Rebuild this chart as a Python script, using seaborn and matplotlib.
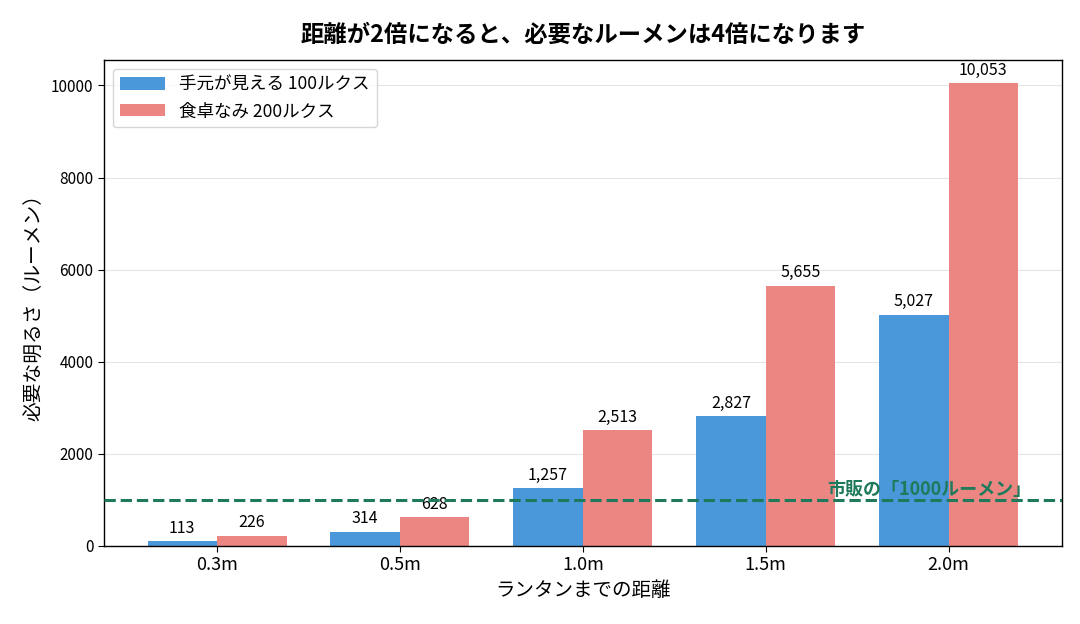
import pandas as pd
import matplotlib.pyplot as plt
import seaborn as sns

distances = ["0.3m", "0.5m", "1.0m", "1.5m", "2.0m"]
lumen_100 = [113, 314, 1257, 2827, 5027]
lumen_200 = [226, 628, 2513, 5655, 10053]
series_names = ["手元が見える 100ルクス", "食卓なみ 200ルクス"]
market_lumen = 1000

df = pd.DataFrame({
    "distance": distances * 2,
    "lumen": lumen_100 + lumen_200,
    "series": [series_names[0]] * len(distances) + [series_names[1]] * len(distances),
})

sns.set_style("white")
plt.rcParams["font.family"] = ["Noto Sans CJK JP", "DejaVu Sans"]
plt.rcParams["text.color"] = "black"
plt.rcParams["axes.labelcolor"] = "black"
plt.rcParams["xtick.color"] = "black"
plt.rcParams["ytick.color"] = "black"

fig, ax = plt.subplots(figsize=(10.8, 6.24), dpi=100)
sns.barplot(
    data=df, x="distance", y="lumen", hue="series",
    palette=["#4A98DA", "#EC8683"], width=0.76, saturation=1,
    linewidth=0, ax=ax, zorder=2,
)

for container in ax.containers:
    ax.bar_label(container, labels=[f"{v:,.0f}" for v in container.datavalues],
                 padding=3, fontsize=11.5)

ax.axhline(market_lumen, color="#1E7A5A", linestyle="--", linewidth=2.2, zorder=3)
ax.text(4.45, market_lumen + 30, "市販の「1000ルーメン」", color="#1E7A5A",
        fontsize=13, fontweight="bold", ha="right", va="bottom", zorder=4)

ax.set_xlim(-0.618, 4.618)
ax.set_ylim(0, max(lumen_200) * 1.05)
ax.set_yticks([0, 2000, 4000, 6000, 8000, 10000])
ax.yaxis.grid(True, color="#E5E5E5", linewidth=0.8, zorder=0)
ax.set_axisbelow(True)
for s in ax.spines.values():
    s.set_color("black")
    s.set_linewidth(1)
ax.tick_params(axis="x", labelsize=13, length=4, bottom=True)
ax.tick_params(axis="y", labelsize=11, length=4, left=True)

ax.set_title("距離が2倍になると、必要なルーメンは4倍になります", fontsize=16.8,
             fontweight="bold", pad=13)
ax.set_xlabel("ランタンまでの距離", fontsize=14)
ax.set_ylabel("必要な明るさ（ルーメン）", fontsize=14.2)
ax.legend(loc="upper left", fontsize=12.6, frameon=True, edgecolor="#CCCCCC",
          handlelength=2.6, title=None)

fig.subplots_adjust(left=0.0963, right=0.983, top=0.904, bottom=0.125)
plt.savefig("out.png", dpi=100)
